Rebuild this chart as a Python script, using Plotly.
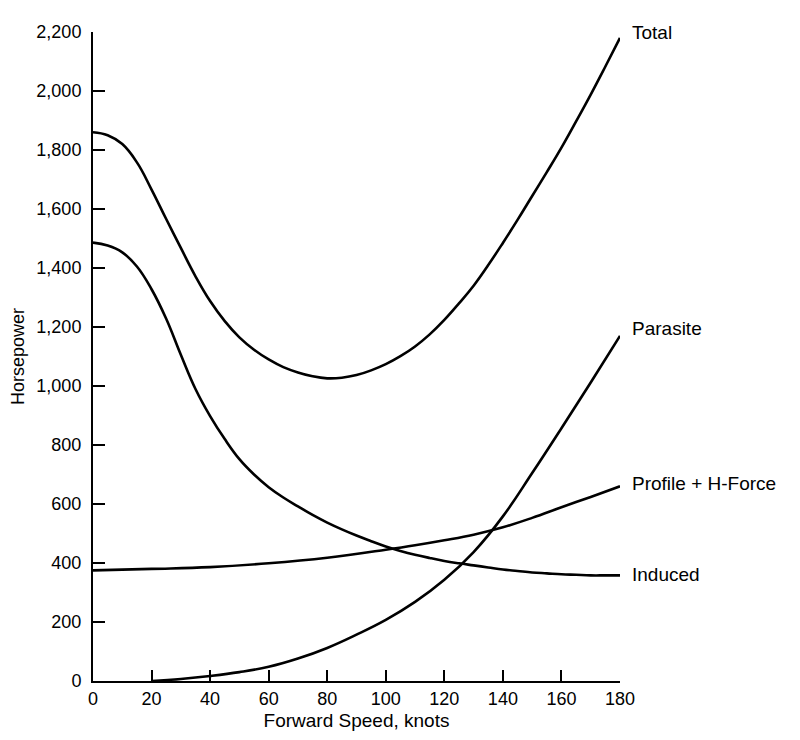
import plotly.graph_objects as go

speed = [0, 5, 10, 15, 20, 25, 30, 35, 40, 45, 50, 55, 60, 65, 70, 75, 80, 85, 90,
         95, 100, 105, 110, 115, 120, 125, 130, 135, 140, 145, 150, 155, 160, 165, 170, 175, 180]
total = [1860, 1850, 1820, 1758, 1666, 1566, 1468, 1372, 1288, 1220, 1165, 1123, 1090, 1064, 1046, 1033, 1026, 1028, 1037,
         1053, 1074, 1101, 1134, 1175, 1224, 1280, 1340, 1410, 1485, 1563, 1644, 1725, 1808, 1897, 1988, 2083, 2180]
induced = [1486, 1476, 1453, 1405, 1328, 1228, 1106, 990, 898, 820, 752, 700, 657, 622, 592, 563, 537, 514, 493,
           474, 456, 441, 428, 417, 407, 399, 392, 385, 378, 373, 368, 365, 362, 360, 358, 358, 358]
profile_speed = [0, 20, 40, 60, 80, 100, 110, 120, 130, 140, 150, 160, 170, 180]
profile = [375, 380, 386, 399, 418, 445, 460, 477, 496, 521, 553, 589, 624, 660]
parasite_speed = [20, 30, 40, 50, 60, 70, 80, 90, 100, 110, 120, 130, 140, 150, 160, 170, 180]
parasite = [0, 7, 17, 30, 48, 76, 112, 157, 207, 268, 343, 437, 558, 705, 857, 1012, 1170]

series = [
    ("Total", speed, total, 5),
    ("Parasite", parasite_speed, parasite, 7),
    ("Profile + H-Force", profile_speed, profile, 3),
    ("Induced", speed, induced, 1),
]

x_ticks = [0, 20, 40, 60, 80, 100, 120, 140, 160, 180]
y_ticks = [0, 200, 400, 600, 800, 1000, 1200, 1400, 1600, 1800, 2000, 2200]

FONT = "Liberation Sans, Arial, Helvetica, sans-serif"

fig = go.Figure()
for name, xs, ys, _ in series:
    fig.add_trace(go.Scatter(
        x=xs, y=ys, mode="lines", name=name,
        line=dict(color="black", width=2.6, shape="spline", smoothing=1.2),
        showlegend=False, hoverinfo="skip",
    ))

annotations = []
for name, xs, ys, yshift in series:
    annotations.append(dict(
        x=xs[-1], y=ys[-1], xref="x", yref="y", text=name, showarrow=False,
        xanchor="left", yanchor="middle", xshift=10, yshift=yshift,
        font=dict(family=FONT, size=19, color="black"),
    ))

fig.update_layout(
    width=800, height=740,
    margin=dict(l=93, r=180, t=32, b=59),
    paper_bgcolor="white", plot_bgcolor="white",
    font=dict(family=FONT, size=18, color="black"),
    annotations=annotations,
    xaxis=dict(
        range=[0, 180], tickvals=x_ticks, ticktext=[str(v) for v in x_ticks],
        showgrid=False, zeroline=False, showline=True, linecolor="black", linewidth=2,
        ticks="inside", ticklen=11, tickwidth=2, tickcolor="black",
        tickfont=dict(family=FONT, size=18, color="black"),
        title=dict(text="Forward Speed, knots", font=dict(family=FONT, size=19, color="black"), standoff=6),
        automargin=False,
    ),
    yaxis=dict(
        range=[0, 2200], tickvals=y_ticks, tickformat=",",
        showgrid=False, zeroline=False, showline=True, linecolor="black", linewidth=2,
        ticks="inside", ticklen=12, tickwidth=2, tickcolor="black",
        tickfont=dict(family=FONT, size=18, color="black"),
        ticklabelstandoff=6,
        title=dict(text="Horsepower", font=dict(family=FONT, size=18, color="black"), standoff=7),
        automargin=False,
    ),
)

fig.write_html("out.html")
